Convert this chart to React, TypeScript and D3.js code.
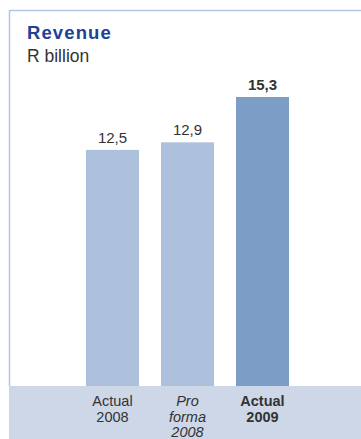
import React from "react";
import * as d3 from "d3";

const categories = ["Actual 2008", "Pro forma 2008", "Actual 2009"];
const values = [12.5, 12.9, 15.3];
const valueLabels = ["12,5", "12,9", "15,3"];
const labelLines = [["Actual", "2008"], ["Pro", "forma", "2008"], ["Actual", "2009"]];
const labelStyles = ["normal", "italic", "bold"];
const barColors = ["#adc1dc", "#adc1dc", "#7b9dc6"];

const W = 361;
const H = 439;
const baseY = 386;

export default function App() {
  const x = d3.scaleBand<string>().domain(categories).range([86, 289]).paddingInner(22 / 75).paddingOuter(0);
  const y = d3.scaleLinear().domain([0, 15.3]).range([baseY, 97]);
  const font = "'Liberation Sans', Arial, sans-serif";
  return (
    <svg width={W} height={H} style={{ position: "absolute", left: 0, top: 0 }}>
      <rect x={0} y={0} width={W} height={H} fill="#fff" />
      <line x1={9.5} x2={W} y1={10.5} y2={10.5} stroke="#b3c5e0" strokeWidth={1.5} />
      <line x1={9.5} x2={9.5} y1={10} y2={baseY} stroke="#b3c5e0" strokeWidth={1.5} />
      <rect x={9} y={baseY} width={W - 9} height={H - baseY} fill="#cdd7e8" />
      <text x={27} y={39} fontFamily={font} fontSize={18.5} fontWeight="bold" fill="#1f4196" letterSpacing={1.1}>Revenue</text>
      <text x={27} y={62} fontFamily={font} fontSize={17.5} fill="#333">R billion</text>
      {categories.map((c, i) => {
        const bx = x(c)!;
        const bw = x.bandwidth();
        const cx = bx + bw / 2;
        return (
          <g key={c}>
            <rect x={bx} y={y(values[i])} width={bw} height={baseY - y(values[i])} fill={barColors[i]} />
            <text x={cx} y={y(values[i]) - 7} textAnchor="middle" fontFamily={font} fontSize={15}
              fontWeight={i === 2 ? "bold" : "normal"} fill="#333">{valueLabels[i]}</text>
            {labelLines[i].map((ln, j) => (
              <text key={j} x={cx} y={406 + j * 15.5} textAnchor="middle" fontFamily={font} fontSize={14.5}
                fontStyle={labelStyles[i] === "italic" ? "italic" : "normal"}
                fontWeight={labelStyles[i] === "bold" ? "bold" : "normal"} fill="#333">{ln}</text>
            ))}
          </g>
        );
      })}
    </svg>
  );
}
